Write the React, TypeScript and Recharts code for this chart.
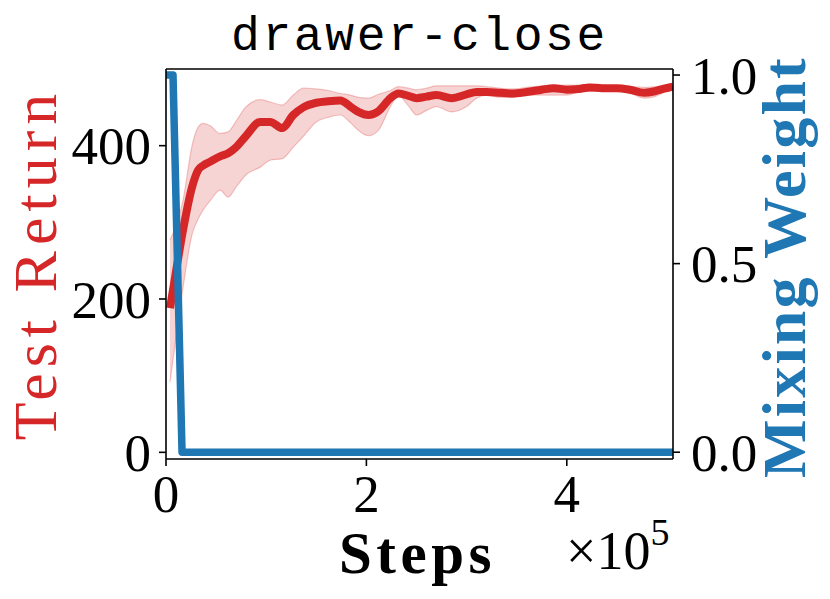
import {
  ComposedChart,
  Line,
  Area,
  XAxis,
  YAxis,
  Label,
  ReferenceLine,
} from "recharts";

// steps are in units of 1e5
const stepX = [
  0.04, 0.1, 0.17, 0.26, 0.32, 0.37, 0.44, 0.54, 0.62, 0.7, 0.8, 0.94, 1.04,
  1.16, 1.27, 1.37, 1.5, 1.62, 1.74, 1.84, 1.92, 2.02, 2.12, 2.24, 2.32, 2.42,
  2.5, 2.6, 2.7, 2.85, 3.0, 3.1, 3.2, 3.33, 3.45, 3.6, 3.75, 3.87, 4.0, 4.12,
  4.23, 4.35, 4.5, 4.63, 4.77, 4.88, 4.96, 5.06,
];
const meanReturn = [
  188, 236, 290, 346, 368, 374, 379, 386, 390, 398, 413, 431, 431, 423, 440,
  450, 456, 458, 459, 451, 444, 440, 445, 462, 468, 465, 462, 464, 466, 462,
  467, 470, 470, 469, 468, 470, 473, 475, 473, 474, 476, 475, 475, 473, 469,
  471, 474, 477,
];
const lowReturn = [
  92, 150, 215, 284, 304, 316, 328, 342, 333, 346, 362, 372, 381, 383, 398,
  412, 431, 437, 440, 430, 420, 413, 420, 451, 465, 452, 440, 446, 451, 444,
  451, 462, 466, 463, 463, 466, 466, 466, 466, 470, 471, 472, 473, 469, 462,
  464, 469, 475,
];
const highReturn = [
  277, 296, 329, 400, 424, 429, 426, 416, 418, 432, 451, 460, 457, 453, 466,
  475, 474, 472, 468, 466, 463, 462, 467, 472, 477, 475, 473, 475, 478, 478,
  478, 478, 477, 475, 474, 476, 478, 479, 479, 479, 480, 479, 478, 477, 476,
  477, 478, 480,
];

const weightX = [0, 0.07, 0.16, 0.3, 1, 2, 3, 4, 5.06];
const mixWeight = [1, 1, 0, 0, 0, 0, 0, 0, 0];

const xTicks = [0, 2, 4];
const leftTicks = [0, 200, 400];
const rightTicks = [0, 0.5, 1];

const RED = "#d62728";
const BLUE = "#1f77b4";
const SERIF = "'Liberation Serif', 'Times New Roman', serif";
const MONO = "'Liberation Mono', 'DejaVu Sans Mono', monospace";

const returnData = stepX.map((x, i) => ({
  x,
  mean: meanReturn[i],
  band: [lowReturn[i], highReturn[i]],
}));
const weightData = weightX.map((x, i) => ({ x, w: mixWeight[i] }));

const tickStyle = { fill: "#000", fontSize: 53, fontFamily: SERIF };

export default function App() {
  return (
    <div style={{ fontFamily: SERIF }}>
      <style>{"body{margin:0}"}</style>
      <ComposedChart
        width={830}
        height={599}
        margin={{ top: 69, right: 0, bottom: 0, left: 0 }}
      >
        <XAxis
          xAxisId="b"
          dataKey="x"
          type="number"
          domain={[0, 5.06]}
          allowDataOverflow
          ticks={xTicks}
          height={140}
          stroke="#000"
          strokeWidth={1.6}
          tickSize={7}
          tickMargin={8}
          tick={tickStyle}
        >
          <Label
            content={(p: any) => {
              const vb = p.viewBox;
              return (
                <g>
                  <text
                    x={vb.x + vb.width / 2 - 2}
                    y={vb.y + 114}
                    textAnchor="middle"
                    fontFamily={SERIF}
                    fontWeight="bold"
                    fontSize={59}
                    letterSpacing={4.5}
                    fill="#000"
                  >
                    Steps
                  </text>
                  <text
                    x={566}
                    y={vb.y + 110}
                    fontFamily={SERIF}
                    fontSize={54}
                    fill="#000"
                  >
                    ×10
                    <tspan fontSize={38} dy={-24}>
                      5
                    </tspan>
                  </text>
                </g>
              );
            }}
          />
        </XAxis>
        <YAxis
          yAxisId="l"
          type="number"
          domain={[-8.7, 500]}
          allowDataOverflow
          ticks={leftTicks}
          width={166}
          stroke="#000"
          strokeWidth={1.6}
          tickSize={7}
          tickMargin={8}
          tick={tickStyle}
        >
          <Label
            content={(p: any) => {
              const vb = p.viewBox;
              const cx = 56;
              const cy = vb.y + vb.height / 2;
              return (
                <text
                  x={cx}
                  y={cy}
                  transform={`rotate(-90 ${cx} ${cy})`}
                  textAnchor="middle"
                  fontFamily={SERIF}
                  fontSize={62}
                  letterSpacing={6}
                  fill={RED}
                >
                  Test Return
                </text>
              );
            }}
          />
        </YAxis>
        <YAxis
          yAxisId="r"
          orientation="right"
          type="number"
          domain={[-0.018, 1.016]}
          allowDataOverflow
          ticks={rightTicks}
          tickFormatter={(v: number) => v.toFixed(1)}
          width={157}
          stroke="#000"
          strokeWidth={1.6}
          tickSize={7}
          tickMargin={11}
          tick={tickStyle}
        >
          <Label
            content={(p: any) => {
              const vb = p.viewBox;
              const cx = 805;
              const cy = vb.y + vb.height / 2 + 3;
              return (
                <text
                  x={cx}
                  y={cy}
                  transform={`rotate(-90 ${cx} ${cy})`}
                  textAnchor="middle"
                  fontFamily={SERIF}
                  fontWeight="bold"
                  fontSize={62}
                  letterSpacing={2.2}
                  fill={BLUE}
                >
                  Mixing Weight
                </text>
              );
            }}
          />
        </YAxis>

        {/* top spine + title */}
        <ReferenceLine
          y={500}
          yAxisId="l"
          xAxisId="b"
          stroke="#000"
          strokeWidth={1.6}
          ifOverflow="visible"
        >
          <Label
            content={(p: any) => {
              const vb = p.viewBox;
              return (
                <text
                  x={vb.x + vb.width / 2}
                  y={50}
                  textAnchor="middle"
                  fontFamily={MONO}
                  fontSize={48}
                  letterSpacing={2.6}
                  fill="#000"
                >
                  drawer-close
                </text>
              );
            }}
          />
        </ReferenceLine>

        <Area
          data={returnData}
          xAxisId="b"
          yAxisId="l"
          dataKey="band"
          type="monotone"
          fill={RED}
          fillOpacity={0.2}
          stroke={RED}
          strokeOpacity={0.25}
          strokeWidth={1.2}
          isAnimationActive={false}
        />
        <Line
          data={returnData}
          xAxisId="b"
          yAxisId="l"
          dataKey="mean"
          type="monotone"
          stroke={RED}
          strokeWidth={8}
          dot={false}
          isAnimationActive={false}
        />
        <Line
          data={weightData}
          xAxisId="b"
          yAxisId="r"
          dataKey="w"
          type="linear"
          stroke={BLUE}
          strokeWidth={7.5}
          strokeLinejoin="round"
          dot={false}
          isAnimationActive={false}
        />
      </ComposedChart>
    </div>
  );
}
